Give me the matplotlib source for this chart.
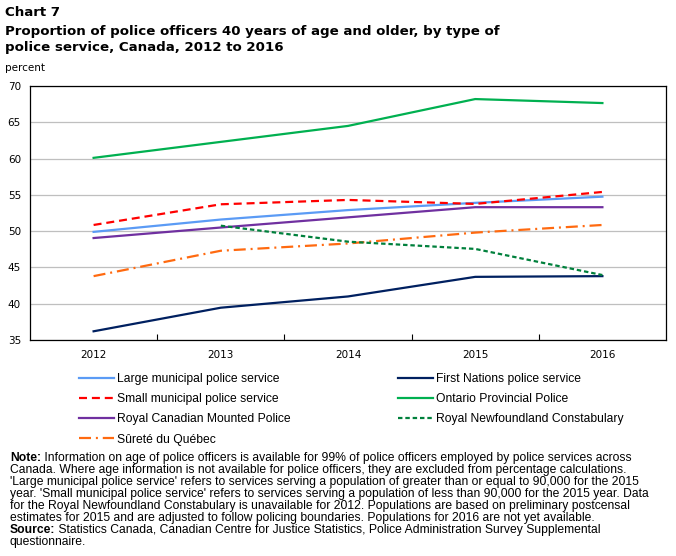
import matplotlib
matplotlib.use('Agg')
import matplotlib.pyplot as plt
import numpy as np

years = ['2012', '2013', '2014', '2015', '2016']

large_muni = [49.9, 51.6, 52.9, 53.9, 54.75]
small_muni = [50.85, 53.7, 54.3, 53.75, 55.4]
rcmp = [49.05, 50.5, 51.9, 53.3, 53.3]
surete = [43.8, 47.3, 48.3, 49.8, 50.85]
first_nations = [36.2, 39.45, 41.0, 43.7, 43.8]
opp = [60.1, 62.3, 64.5, 68.2, 67.65]
rnc = [np.nan, 50.75, 48.55, 47.55, 43.95]  # no data for 2012

x = np.arange(len(years))

fig = plt.figure(figsize=(6.76, 5.56), dpi=100)
ax = fig.add_axes([30/676, 1 - 340/556, 636/676, 254/556])

lw = 1.6
ln_large, = ax.plot(x, large_muni, color='#5B9BF5', lw=lw, label='Large municipal police service')
ln_small, = ax.plot(x, small_muni, color='#FF0000', lw=lw, dashes=(3.6, 2.2), label='Small municipal police service')
ln_rcmp, = ax.plot(x, rcmp, color='#7030A0', lw=lw, label='Royal Canadian Mounted Police')
ln_sq, = ax.plot(x, surete, color='#FF6A10', lw=lw, dashes=(5.4, 2.2, 0.9, 2.2), label='Sûreté du Québec')
ln_fn, = ax.plot(x, first_nations, color='#002060', lw=lw, label='First Nations police service')
ln_opp, = ax.plot(x, opp, color='#00B050', lw=lw, label='Ontario Provincial Police')
ln_rnc, = ax.plot(x, rnc, color='#00803C', lw=lw, dashes=(2.0, 1.3), label='Royal Newfoundland Constabulary')

ax.set_xlim(-0.5, 4.5)
ax.set_ylim(35, 70)
ax.set_yticks(np.arange(35, 71, 5))
ax.yaxis.grid(True, color='#BFBFBF', lw=0.9)
ax.set_axisbelow(True)
ax.tick_params(axis='y', length=0, labelsize=7.5, pad=6.5)
ax.set_xticks(x)
ax.set_xticklabels(years)
ax.tick_params(axis='x', which='major', length=0, labelsize=7.5, pad=7)
ax.set_xticks(x[:-1] + 0.5, minor=True)
ax.tick_params(axis='x', which='minor', direction='in', length=4, width=0.8)
for s in ax.spines.values():
    s.set_linewidth(0.9)

tsize = 9.6
fig.text(5/676, 1 - 13/556, 'Chart 7', fontsize=tsize, fontweight='bold', va='center')
fig.text(5/676, 1 - 31/556, 'Proportion of police officers 40 years of age and older, by type of',
         fontsize=tsize, fontweight='bold', va='center')
fig.text(5/676, 1 - 47/556, 'police service, Canada, 2012 to 2016', fontsize=tsize, fontweight='bold', va='center')
fig.text(5/676, 1 - 68/556, 'percent', fontsize=7.5, va='center')

# legend in two columns
lfont = {'family': 'Liberation Sans', 'size': 8.7}
legkw = dict(loc='upper left', frameon=False, prop=lfont, borderpad=0, borderaxespad=0,
             handlelength=2.9, handletextpad=0.25, labelspacing=0.68)
fig.legend(handles=[ln_large, ln_small, ln_rcmp, ln_sq], bbox_to_anchor=(79/676, 1 - 373/556), **legkw)
fig.legend(handles=[ln_fn, ln_opp, ln_rnc], bbox_to_anchor=(398/676, 1 - 373/556), **legkw)

# note and source
nfont = 'Liberation Sans'
nsize = 8.7
y0 = 458
step = 12.0
note_first = ' Information on age of police officers is available for 99% of police officers employed by police services across'
note_lines = [
    'Canada. Where age information is not available for police officers, they are excluded from percentage calculations.',
    "'Large municipal police service' refers to services serving a population of greater than or equal to 90,000 for the 2015",
    "year. 'Small municipal police service' refers to services serving a population of less than 90,000 for the 2015 year. Data",
    'for the Royal Newfoundland Constabulary is unavailable for 2012. Populations are based on preliminary postcensal',
    'estimates for 2015 and are adjusted to follow policing boundaries. Populations for 2016 are not yet available.',
]
source_text = ' Statistics Canada, Canadian Centre for Justice Statistics, Police Administration Survey Supplemental'

t = fig.text(10/676, 1 - y0/556, 'Note:', fontsize=nsize, family=nfont, fontweight='bold', va='center')
ax.annotate(note_first, xy=(1, 0), xycoords=t, va='bottom', ha='left',
            fontsize=nsize, family=nfont, annotation_clip=False)
for i, line in enumerate(note_lines):
    fig.text(10/676, 1 - (y0 + step*(i+1))/556, line, fontsize=nsize, family=nfont, va='center')
ys = y0 + step*6
t2 = fig.text(10/676, 1 - ys/556, 'Source:', fontsize=nsize, family=nfont, fontweight='bold', va='center')
ax.annotate(source_text, xy=(1, 0), xycoords=t2, va='bottom', ha='left',
            fontsize=nsize, family=nfont, annotation_clip=False)
fig.text(10/676, 1 - (ys + step)/556, 'questionnaire.', fontsize=nsize, family=nfont, va='center')

fig.savefig('out.png', dpi=100)
